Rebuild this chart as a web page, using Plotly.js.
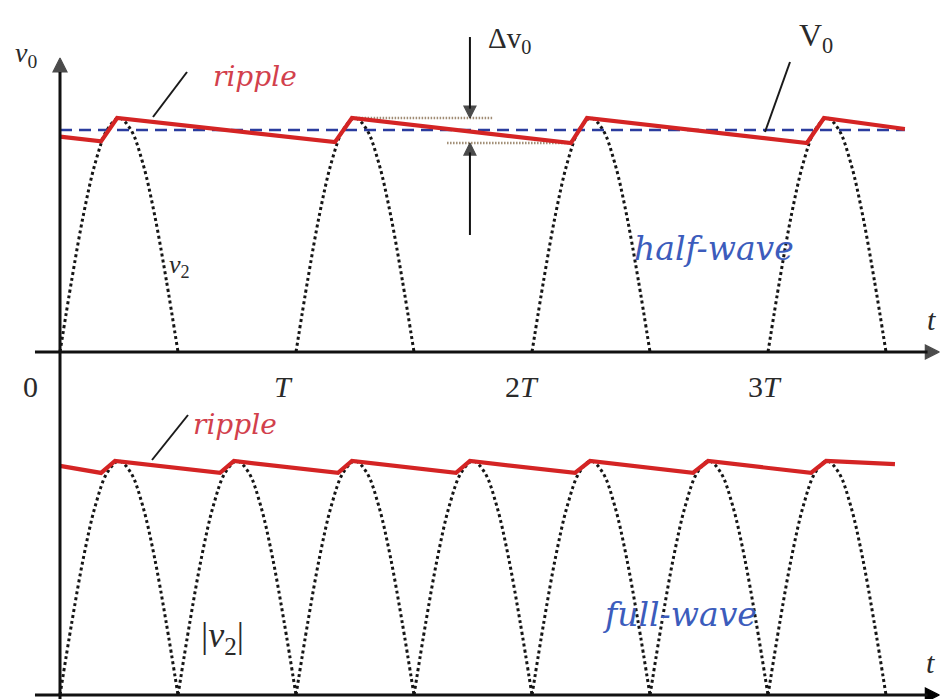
<!DOCTYPE html>
<html>
<head>
<meta charset="utf-8">
<script src="https://cdn.plot.ly/plotly-3.0.1.min.js"></script>
<style>
  html, body { margin: 0; padding: 0; background: #fff; }
  #chart { width: 941px; height: 699px; }
</style>
</head>
<body>
<div id="chart"></div>
<script>
// Time in periods T, voltage as a fraction of the peak of v2.

// One positive half-cycle of the source voltage (phase in T, level in peak units)
const humpPhase = [0, 0.05, 0.1, 0.15, 0.2, 0.25, 0.3, 0.35, 0.4, 0.45, 0.5];
const humpLevel = [0, 0.31, 0.59, 0.81, 0.95, 1.0, 0.95, 0.81, 0.59, 0.31, 0];

// Start of each conducting half-cycle
const halfWaveStarts = [0, 1, 2, 3];
const fullWaveStarts = [0, 0.5, 1, 1.5, 2, 2.5, 3];

// Capacitor output voltage, half-wave rectifier
const rippleHalfT = [0, 0.174, 0.242, 1.165, 1.237, 2.165, 2.233, 3.165, 3.237, 3.58];
const rippleHalfV = [0.92, 0.90, 1.0, 0.897, 1.0, 0.893, 1.0, 0.893, 1.0, 0.953];

// Capacitor output voltage, full-wave rectifier
const rippleFullT = [0, 0.174, 0.233, 0.678, 0.737, 1.178, 1.237, 1.678, 1.737,
                     2.182, 2.246, 2.682, 2.746, 3.182, 3.246, 3.538];
const rippleFullV = [0.979, 0.949, 1.0, 0.949, 1.0, 0.949, 1.0, 0.949, 1.0,
                     0.949, 1.0, 0.949, 1.0, 0.949, 1.0, 0.987];

// Average output V0 and the peak-to-peak ripple marker
const v0Level = 0.949;
const v0Span = [0, 3.58];
const ripplePeak = 1.0;
const rippleValley = 0.893;
const peakGuideT = [1.24, 1.835];
const valleyGuideT = [1.64, 2.169];
const deltaMarkT = 1.737;

// Tick labels along the time axis
const tickLabels = ['0', '<i>T</i>', '2<i>T</i>', '3<i>T</i>'];

function humps(starts) {
  const x = [], y = [];
  starts.forEach(s => {
    humpPhase.forEach((p, i) => { x.push(s + p); y.push(humpLevel[i]); });
    x.push(null); y.push(null);
  });
  return { x, y };
}

const half = humps(halfWaveStarts);
const full = humps(fullWaveStarts);

const dotted = { color: '#151515', width: 3, dash: '3px,3px', shape: 'spline', smoothing: 1 };
const red = { color: '#d42424', width: 4.2 };
const guide = { color: '#a08c74', width: 2.5, dash: '1.5px,1.5px' };
const head = { color: '#000', line: { width: 1.2, color: '#000' } };

// Axis ends and the ripple marker: arrow tips (x in T, y in peak units)
const tAxisStart = -0.106, tAxisEnd = 3.726;
const vAxisTip = (352 - 58) / 234;
const deltaTop = 1.346, deltaBottom = 0.5;

const traces = [
  { x: half.x, y: half.y, xaxis: 'x', yaxis: 'y', mode: 'lines', line: dotted, connectgaps: false, hoverinfo: 'skip' },
  { x: full.x, y: full.y, xaxis: 'x', yaxis: 'y2', mode: 'lines', line: dotted, connectgaps: false, hoverinfo: 'skip' },
  { x: peakGuideT, y: [ripplePeak, ripplePeak], xaxis: 'x', yaxis: 'y', mode: 'lines', line: guide, hoverinfo: 'skip' },
  { x: valleyGuideT, y: [rippleValley, rippleValley], xaxis: 'x', yaxis: 'y', mode: 'lines', line: guide, hoverinfo: 'skip' },
  { x: v0Span, y: [v0Level, v0Level], xaxis: 'x', yaxis: 'y', mode: 'lines',
    line: { color: '#2a3c9e', width: 2.5, dash: '12px,7px' }, hoverinfo: 'skip' },
  { x: rippleHalfT, y: rippleHalfV, xaxis: 'x', yaxis: 'y', mode: 'lines', line: red, hoverinfo: 'skip' },
  { x: rippleFullT, y: rippleFullV, xaxis: 'x', yaxis: 'y2', mode: 'lines', line: red, hoverinfo: 'skip' },
  // arrowheads, upper panel
  { x: [tAxisEnd, 0, deltaMarkT, deltaMarkT], y: [0, vAxisTip, ripplePeak, rippleValley],
    xaxis: 'x', yaxis: 'y', mode: 'markers', cliponaxis: false, hoverinfo: 'skip',
    marker: Object.assign({ symbol: ['arrow-right', 'arrow-up', 'arrow-down', 'arrow-up'], size: [14, 14, 12, 12] }, head) },
  // arrowhead, lower panel
  { x: [tAxisEnd], y: [0], xaxis: 'x', yaxis: 'y2', mode: 'markers', cliponaxis: false, hoverinfo: 'skip',
    marker: Object.assign({ symbol: 'arrow-right', size: 14 }, head) }
];

// Helpers: place decorations by page pixel
const W = 941, H = 699;
const px = v => v / W;
const py = v => 1 - v / H;

const serif = 'Liberation Serif, Times New Roman, serif';
const italicFace = 'DejaVu Serif, serif';

function label(text, x, y, size, color, family, style) {
  return {
    text, xref: 'paper', yref: 'paper', x: px(x), y: py(y),
    xanchor: 'center', yanchor: 'middle', showarrow: false,
    font: { family: family || serif, size, color: color || '#2a2a2a', style: style || 'normal' }
  };
}

const annotations = [
  label('<i>v</i><sub>0</sub>', 26, 54, 28),
  label('ripple', 255, 76, 28, '#d2404c', italicFace, 'italic'),
  label('ripple', 235, 424, 28, '#d2404c', italicFace, 'italic'),
  label('V<sub>0</sub>', 816, 38, 32),
  label('\u0394v<sub>0</sub>', 509, 40, 29),
  label('<i>v</i><sub>2</sub>', 179, 266, 26),
  label('half-wave', 714, 248, 33, '#3c5cbc', italicFace, 'italic'),
  label('full-wave', 679, 614, 33, '#3c5cbc', italicFace, 'italic'),
  label('|<i>v</i><sub>2</sub>|', 222, 637, 36),
  label('<i>t</i>', 931, 319, 30),
  label('<i>t</i>', 930, 662, 30),
  label(tickLabels[0], 31, 386, 30),
  label(tickLabels[1], 283, 386, 30),
  label(tickLabels[2], 522, 386, 30),
  label(tickLabels[3], 765, 386, 30)
];

function leader(x0, y0, x1, y1) {
  return { type: 'line', xref: 'paper', yref: 'paper', x0: px(x0), y0: py(y0), x1: px(x1), y1: py(y1),
           line: { color: '#1a1a1a', width: 2 } };
}
const axisLine = { color: '#111', width: 3 };

const layout = {
  width: W, height: H,
  margin: { l: 0, r: 0, t: 0, b: 0 },
  paper_bgcolor: '#fff', plot_bgcolor: '#fff',
  showlegend: false,
  xaxis: { range: [-60 / 236, 881 / 236], visible: false, fixedrange: true },
  yaxis: { domain: [0.485, 1], range: [-8 / 234, 352 / 234], visible: false, fixedrange: true },
  yaxis2: { domain: [0, 0.485], range: [-4 / 234, 335 / 234], visible: false, anchor: 'x', fixedrange: true },
  annotations,
  shapes: [
    // time axes
    { type: 'line', xref: 'x', yref: 'y', x0: tAxisStart, x1: tAxisEnd - 0.05, y0: 0, y1: 0, line: axisLine },
    { type: 'line', xref: 'x', yref: 'y2', x0: tAxisStart, x1: tAxisEnd - 0.05, y0: 0, y1: 0, line: axisLine },
    // shared vertical axis
    { type: 'line', xref: 'x', yref: 'paper', x0: 0, x1: 0, y0: 0, y1: py(72), line: axisLine },
    // ripple amplitude marker
    { type: 'line', xref: 'x', yref: 'y', x0: deltaMarkT, x1: deltaMarkT, y0: deltaTop, y1: ripplePeak + 0.04,
      line: { color: '#111', width: 2 } },
    { type: 'line', xref: 'x', yref: 'y', x0: deltaMarkT, x1: deltaMarkT, y0: deltaBottom, y1: rippleValley - 0.04,
      line: { color: '#111', width: 2 } },
    // label leaders
    leader(187, 72, 153, 117),
    leader(188, 415, 152, 460),
    leader(790, 62, 765, 132)
  ]
};

Plotly.newPlot('chart', traces, layout, { displayModeBar: false, staticPlot: true });
</script>
</body>
</html>
